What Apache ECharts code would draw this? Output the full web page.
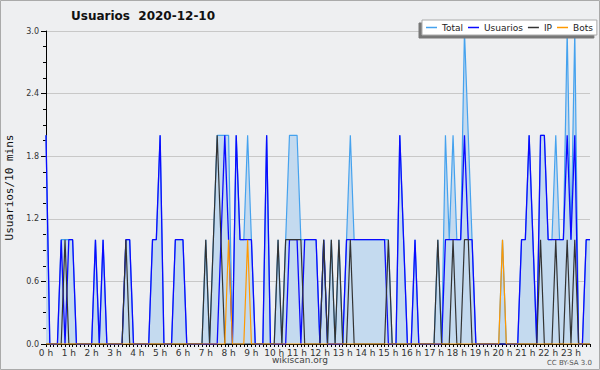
<!DOCTYPE html>
<html>
<head>
<meta charset="utf-8">
<script src="https://cdn.jsdelivr.net/npm/echarts@6/dist/echarts.min.js"></script>
<style>
  html, body { margin: 0; padding: 0; background: #eeeff1; }
  #chart { width: 600px; height: 370px; }
</style>
</head>
<body>
<div id="chart"></div>
<script>
// one value per 10 minutes, 12 values = 2 hours per row
var hourLabels = ['0 h', '1 h', '2 h', '3 h', '4 h', '5 h', '6 h', '7 h', '8 h', '9 h', '10 h', '11 h',
  '12 h', '13 h', '14 h', '15 h', '16 h', '17 h', '18 h', '19 h', '20 h', '21 h', '22 h', '23 h'];
var yTicks = [0, 0.6, 1.2, 1.8, 2.4, 3.0];

var total = [
  2,0,0,0,1,1,1,1,0,0,0,0,
  0,1,0,1,0,0,0,0,0,1,1,0,
  0,0,0,0,1,1,2,0,0,0,1,1,
  1,0,0,0,0,0,1,0,1,2,2,2,
  2,0,2,1,1,2,1,0,0,0,2,0,
  0,1,0,1,2,2,2,1,1,1,1,1,
  0,1,0,1,0,1,0,1,2,1,1,1,
  1,1,1,1,1,1,1,0,0,2,1,0,
  0,1,0,0,0,0,0,1,0,2,1,2,
  1,1,3,2,1,0,0,0,0,0,0,0,
  1,0,0,0,0,1,1,2,1,0,2,2,
  1,1,2,1,1,3,1,3,0,0,1,1
];
var usuarios = [
  2,0,0,0,1,0,1,1,0,0,0,0,
  0,1,0,1,0,0,0,0,0,1,1,0,
  0,0,0,0,1,1,2,0,0,0,1,1,
  1,0,0,0,0,0,0,0,0,0,1,2,
  1,0,2,1,1,1,1,0,0,0,2,0,
  0,0,0,0,1,1,1,0,1,1,1,1,
  0,1,0,0,0,0,0,1,1,1,1,1,
  1,1,1,1,1,1,0,0,0,2,1,0,
  0,1,0,0,0,0,0,0,0,1,1,1,
  1,1,2,1,1,0,0,0,0,0,0,0,
  0,0,0,0,0,1,1,2,1,0,2,2,
  1,1,1,1,1,2,1,2,0,0,1,1
];
var ip = [
  0,0,0,0,0,1,0,0,0,0,0,0,
  0,0,0,0,0,0,0,0,0,1,0,0,
  0,0,0,0,0,0,0,0,0,0,0,0,
  0,0,0,0,0,0,1,0,1,2,1,0,
  0,0,0,0,0,0,0,0,0,0,0,0,
  0,1,0,1,1,1,1,1,0,0,0,0,
  0,1,0,1,0,1,0,0,1,0,0,0,
  0,0,0,0,0,0,1,0,0,0,0,0,
  0,0,0,0,0,0,0,1,0,0,0,1,
  0,0,1,1,0,0,0,0,0,0,0,0,
  0,0,0,0,0,0,0,0,0,0,1,0,
  0,0,1,0,0,1,0,1,0,0,0,0
];
var bots = [
  0,0,0,0,0,0,0,0,0,0,0,0,
  0,0,0,0,0,0,0,0,0,0,0,0,
  0,0,0,0,0,0,0,0,0,0,0,0,
  0,0,0,0,0,0,0,0,0,0,0,0,
  1,0,0,0,0,1,0,0,0,0,0,0,
  0,0,0,0,0,0,0,0,0,0,0,0,
  0,0,0,0,0,0,0,0,0,0,0,0,
  0,0,0,0,0,0,0,0,0,0,0,0,
  0,0,0,0,0,0,0,0,0,0,0,0,
  0,0,0,0,0,0,0,0,0,0,0,0,
  1,0,0,0,0,0,0,0,0,0,0,0,
  0,0,0,0,0,0,0,0,0,0,0,0
];

var slots = [];
hourLabels.forEach(function (h) {
  for (var k = 0; k < 6; k++) slots.push(k === 0 ? h : '');
});

// svg renderer: the canvas one left holes in the Total fill
var chart = echarts.init(document.getElementById('chart'), null, {renderer: 'svg'});

function line(name, data, color, width) {
  return {
    name: name, type: 'line', data: data, symbol: 'none',
    lineStyle: {color: color, width: width}
  };
}

var totalSeries = line('Total', total, '#45a2ee', 1.2);
totalSeries.areaStyle = {color: '#c4daef', opacity: 1};

chart.setOption({
  animation: false,
  color: ['#45a2ee', '#0a0aff', '#333333', '#ff9900'],
  legend: {
    data: ['Total', 'Usuarios', 'IP', 'Bots'],
    left: 422, top: 20, icon: 'rect', itemWidth: 11, itemHeight: 1.5,
    itemGap: 5, padding: [3, 4, 3, 4],
    backgroundColor: '#fff', borderColor: '#aaa', borderWidth: 1,
    shadowColor: '#777', shadowBlur: 0, shadowOffsetX: -3, shadowOffsetY: 3,
    textStyle: {fontFamily: 'DejaVu Sans', fontSize: 9, color: '#222'}
  },
  grid: {left: 46, right: 10, top: 31, bottom: 26, outerBoundsMode: 'none'},
  xAxis: {
    type: 'category', data: slots, boundaryGap: false,
    axisLine: {lineStyle: {color: '#000', width: 1}},
    axisTick: {show: true, interval: 0, length: 3, lineStyle: {color: '#000'}},
    axisLabel: {interval: 0, margin: 4, fontFamily: 'DejaVu Sans', fontSize: 9, color: '#333'},
    splitLine: {show: false}
  },
  yAxis: {
    type: 'value', min: yTicks[0], max: yTicks[yTicks.length - 1], interval: 0.6,
    name: 'Usuarios/10 mins', nameLocation: 'middle', nameGap: 28, nameRotate: 90,
    nameTextStyle: {fontFamily: 'DejaVu Sans Mono', fontSize: 11, color: '#111'},
    axisLine: {show: true, lineStyle: {color: '#000', width: 1}},
    axisTick: {show: true, length: 5, lineStyle: {color: '#000'}},
    minorTick: {show: true, splitNumber: 4, length: 3, lineStyle: {color: '#000'}},
    axisLabel: {
      margin: 7, fontFamily: 'DejaVu Sans', fontSize: 8, color: '#333',
      formatter: function (v) { return v.toFixed(1); }
    },
    splitLine: {show: true, lineStyle: {color: '#c8c8c8', width: 1}}
  },
  series: [
    totalSeries,
    line('Usuarios', usuarios, '#0a0aff', 1.3),
    line('IP', ip, '#333333', 1.2),
    line('Bots', bots, '#ff9900', 1.2)
  ],
  graphic: [
    {type: 'rect', shape: {x: 0.5, y: 0.5, width: 599, height: 369},
      style: {fill: 'none', stroke: '#aaa', lineWidth: 1}, silent: true},
    {type: 'text', left: 71, top: 10,
      style: {text: 'Usuarios  2020-12-10', fontFamily: 'DejaVu Sans', fontSize: 12, fontWeight: 'bold', fill: '#111'}},
    {type: 'text', left: 'center', top: 355,
      style: {text: 'wikiscan.org', fontFamily: 'DejaVu Sans', fontSize: 9, fill: '#444'}},
    {type: 'text', right: 8, top: 359,
      style: {text: 'CC BY-SA 3.0', fontFamily: 'DejaVu Sans', fontSize: 7, fill: '#555'}}
  ]
});
</script>
</body>
</html>
